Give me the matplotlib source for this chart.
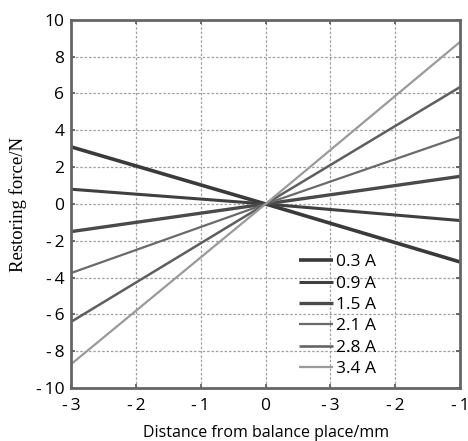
import matplotlib
matplotlib.use("Agg")
import matplotlib.pyplot as plt

# Data
x_vals = [-3, 0, 3]
labels = ["0.3 A", "0.9 A", "1.5 A", "2.1 A", "2.8 A", "3.4 A"]
series = [
    [3.1, 0.0, -3.15],
    [0.8, 0.0, -0.9],
    [-1.5, 0.0, 1.5],
    [-3.75, 0.0, 3.65],
    [-6.4, 0.0, 6.35],
    [-8.7, 0.0, 8.8],
]
xtick_pos = [-3, -2, -1, 0, 1, 2, 3]
xtick_labels = ["-\u20093", "-\u20092", "-\u20091", "0", "-\u20093", "-\u20092", "-\u20091"]
ytick_pos = [-10, -8, -6, -4, -2, 0, 2, 4, 6, 8, 10]
ytick_labels = ["-\u200910", "-\u20098", "-\u20096", "-\u20094", "-\u20092", "0", "2", "4", "6", "8", "10"]

colors = ["#3a3a3a", "#404040", "#4a4a4a", "#6a6a6a", "#5e5e5e", "#9a9a9a"]
widths = [2.6, 2.2, 2.4, 1.6, 1.8, 1.6]

plt.rcParams['font.family'] = ['Open Sans', 'DejaVu Sans']

fig = plt.figure(figsize=(4.68, 4.41), dpi=100)
ax = fig.add_axes([0.152, 0.120, 0.831, 0.835])

for ys, lab, c, w in zip(series, labels, colors, widths):
    ax.plot(x_vals, ys, color=c, lw=w, label=lab, solid_capstyle='butt')

ax.set_xlim(-3, 3)
ax.set_ylim(-10, 10)
ax.set_xticks(xtick_pos)
ax.set_xticklabels(xtick_labels)
ax.set_yticks(ytick_pos)
ax.set_yticklabels(ytick_labels)
ax.tick_params(direction='in', length=3, width=1.2, color='#555555',
               labelsize=12.5, top=True, right=True, labelcolor='black')
ax.tick_params(axis='x', pad=7)
ax.tick_params(axis='y', pad=5)
ax.grid(True, linestyle=(0, (2, 1.5)), color='#a0a0a0', lw=0.9)

for s in ax.spines.values():
    s.set_color('#666666')
    s.set_linewidth(2.0)

ax.set_xlabel("Distance from balance place/mm", fontsize=11.5, labelpad=8, color='black')
ax.set_ylabel("Restoring force/N", fontsize=13.5, family=['Liberation Serif', 'DejaVu Serif'],
              labelpad=6, color='black')

leg = ax.legend(loc='lower left', bbox_to_anchor=(0.585, 0.03), frameon=False,
                fontsize=12.5, handlelength=2.0, handletextpad=0.15,
                labelspacing=0.3, borderaxespad=0.0, borderpad=0.0)

fig.savefig("out.png", dpi=100)
